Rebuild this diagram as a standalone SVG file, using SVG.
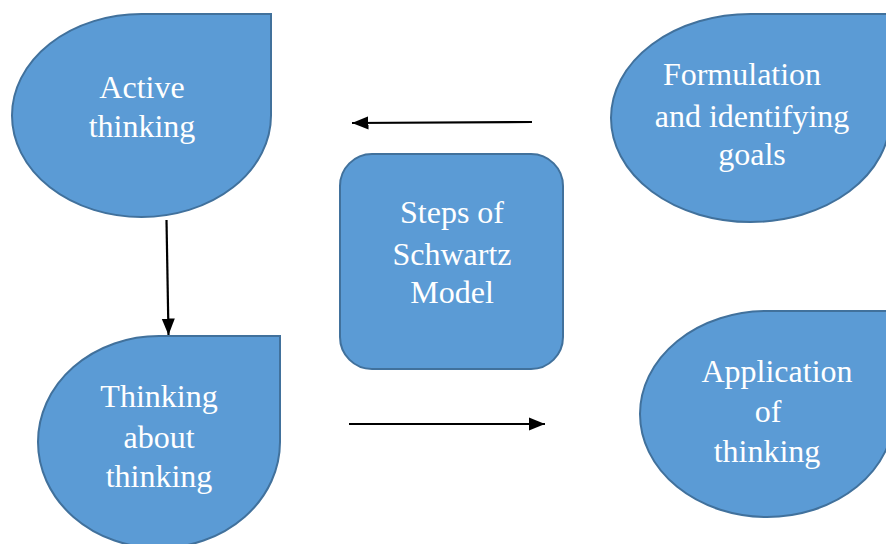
<svg xmlns="http://www.w3.org/2000/svg" width="886" height="544" viewBox="0 0 886 544">
<style>
.shape{fill:#5B9BD5;stroke:#41719C;stroke-width:2}
.t{font-family:"Liberation Serif","Times New Roman",serif;font-size:32px;fill:#ffffff;text-anchor:middle}
.c{stroke:#000;stroke-width:2.2;fill:none}
</style>
<defs>
<marker id="ah" markerWidth="9" markerHeight="9" refX="7.5" refY="4.5" orient="auto" markerUnits="strokeWidth">
<path d="M0,1.5 L7.5,4.5 L0,7.5 Z" fill="#000"/>
</marker>
</defs>
<rect width="886" height="544" fill="#fff"/>
<g id="active">
<path class="shape" d="M141.5,14 L271,14 L271,115.5 A129.5,101.5 0 0 1 141.5,217 A129.5,101.5 0 0 1 12,115.5 A129.5,101.5 0 0 1 141.5,14 Z"/>
<text class="t"><tspan x="142" y="98">Active</tspan><tspan x="142" y="137">thinking</tspan></text>
</g>
<g id="thinking-about">
<path class="shape" d="M159,336 L280,336 L280,442 A121,106 0 0 1 159,548 A121,106 0 0 1 38,442 A121,106 0 0 1 159,336 Z"/>
<text class="t"><tspan x="159" y="407">Thinking</tspan><tspan x="159" y="448">about</tspan><tspan x="159" y="487">thinking</tspan></text>
</g>
<g id="formulation">
<path class="shape" d="M750.5,14 L890,14 L890,118 A139.5,104 0 0 1 750.5,222 A139.5,104 0 0 1 611,118 A139.5,104 0 0 1 750.5,14 Z"/>
<text class="t"><tspan x="742" y="85">Formulation</tspan><tspan x="752" y="127">and identifying</tspan><tspan x="752" y="165">goals</tspan></text>
</g>
<g id="application">
<path class="shape" d="M767,311 L894,311 L894,414 A127,103 0 0 1 767,517 A127,103 0 0 1 640,414 A127,103 0 0 1 767,311 Z"/>
<text class="t"><tspan x="777" y="382">Application</tspan><tspan x="768" y="422">of</tspan><tspan x="767" y="462">thinking</tspan></text>
</g>
<g id="center">
<rect class="shape" x="340" y="154" width="223" height="215" rx="32" ry="32"/>
<text class="t"><tspan x="452" y="223">Steps of</tspan><tspan x="452" y="265">Schwartz</tspan><tspan x="452" y="303">Model</tspan></text>
</g>
<g id="connectors">
<line class="c" x1="532" y1="122" x2="352" y2="123" marker-end="url(#ah)"/>
<line class="c" x1="349" y1="424" x2="545" y2="424" marker-end="url(#ah)"/>
<line class="c" x1="166.5" y1="220" x2="168.5" y2="335" marker-end="url(#ah)"/>
</g>
</svg>
